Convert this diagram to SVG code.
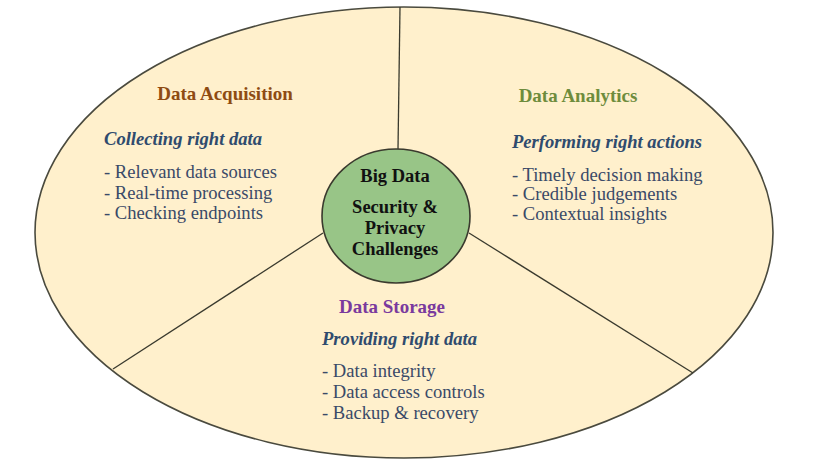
<svg xmlns="http://www.w3.org/2000/svg" width="825" height="472" viewBox="0 0 825 472">
<style>
text{font-family:"Liberation Serif","Times New Roman",serif}
.t{font-size:19px;font-weight:bold;text-anchor:middle}
.s{font-size:18.6px;font-weight:bold;font-style:italic;fill:#2F4B6E}
.i{font-size:18.6px;fill:#3A4A68}
.c{font-size:18.5px;font-weight:bold;fill:#111;text-anchor:middle}
.ln{stroke:#3a3a2e;stroke-width:1.3;fill:none}
</style>
<rect width="825" height="472" fill="#fff"/>
<g id="outer">
<ellipse cx="404" cy="232.5" rx="369" ry="225.5" fill="#FFF0CC" stroke="#4a4a3e" stroke-width="1.6"/>
</g>
<g id="connectors">
<line class="ln" x1="400" y1="7" x2="398" y2="149"/>
<line class="ln" x1="323" y1="233" x2="113" y2="369"/>
<line class="ln" x1="469" y1="233" x2="693" y2="373"/>
</g>
<g id="center">
<ellipse cx="396" cy="216" rx="74" ry="67" fill="#98C587" stroke="#3a3a2e" stroke-width="1.6"/>
<text class="c" x="395" y="182">Big Data</text>
<text class="c" x="395" y="213">Security &amp;</text>
<text class="c" x="395" y="234">Privacy</text>
<text class="c" x="395" y="255">Challenges</text>
</g>
<g id="acquisition">
<text class="t" x="225" y="100" fill="#8E4B12">Data Acquisition</text>
<text class="s" x="104" y="145">Collecting right data</text>
<text class="i" x="104" y="178">- Relevant data sources</text>
<text class="i" x="104" y="199">- Real-time processing</text>
<text class="i" x="104" y="219">- Checking endpoints</text>
</g>
<g id="analytics">
<text class="t" x="578" y="102" fill="#6E8C3C">Data Analytics</text>
<text class="s" x="512" y="148">Performing right actions</text>
<text class="i" x="512" y="181">- Timely decision making</text>
<text class="i" x="512" y="200">- Credible judgements</text>
<text class="i" x="512" y="220">- Contextual insights</text>
</g>
<g id="storage">
<text class="t" x="392" y="313" fill="#7A3A9E">Data Storage</text>
<text class="s" x="322" y="345">Providing right data</text>
<text class="i" x="322" y="377">- Data integrity</text>
<text class="i" x="322" y="398">- Data access controls</text>
<text class="i" x="322" y="419">- Backup &amp; recovery</text>
</g>
</svg>
